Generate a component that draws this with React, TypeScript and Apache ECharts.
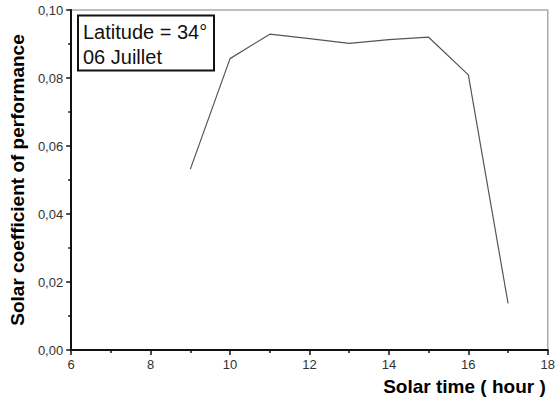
import React, { useEffect, useRef } from "react";
import * as echarts from "echarts";

const hours = [9, 10, 11, 12, 13, 14, 15, 16, 17];
const cop = [0.0532, 0.0857, 0.0929, 0.0916, 0.0902, 0.0913, 0.0920, 0.0809, 0.0137];
const legendLines = ["Latitude = 34°", "06 Juillet"];
const xTitle = "Solar time ( hour )";
const yTitle = "Solar coefficient of performance";

const FONT = "'Liberation Sans', Arial, sans-serif";

export default function App() {
  const ref = useRef<HTMLDivElement>(null);
  useEffect(() => {
    if (!ref.current) return;
    const chart = echarts.init(ref.current, undefined, { renderer: "svg" });
    chart.setOption({
      animation: false,
      backgroundColor: "#fff",
      grid: {
        left: 71,
        right: 8,
        top: 10,
        bottom: 54,
        show: true,
        borderColor: "#aaa",
        borderWidth: 1.5,
      },
      xAxis: {
        type: "value",
        min: 6,
        max: 18,
        interval: 2,
        name: xTitle,
        nameLocation: "end",
        nameGap: -2,
        nameTextStyle: {
          fontFamily: FONT,
          fontWeight: "bold",
          fontSize: 19,
          color: "#000",
          align: "right",
          verticalAlign: "top",
          padding: [27, 0, 0, 0],
        },
        axisLine: { show: true, lineStyle: { color: "#111", width: 2 } },
        axisTick: { show: true, length: 5, lineStyle: { color: "#111", width: 1.5 } },
        minorTick: { show: true, splitNumber: 2, length: 3, lineStyle: { color: "#111", width: 1.5 } },
        splitLine: { show: false },
        axisLabel: { fontFamily: FONT, fontSize: 13, color: "#333", margin: 8 },
      },
      yAxis: {
        type: "value",
        min: 0,
        max: 0.1,
        interval: 0.02,
        name: yTitle,
        nameLocation: "middle",
        nameGap: 42,
        nameTextStyle: {
          fontFamily: FONT,
          fontWeight: "bold",
          fontSize: 19,
          color: "#000",
        },
        axisLine: { show: true, lineStyle: { color: "#111", width: 2 } },
        axisTick: { show: true, length: 5, lineStyle: { color: "#111", width: 1.5 } },
        minorTick: { show: true, splitNumber: 2, length: 3, lineStyle: { color: "#111", width: 1.5 } },
        splitLine: { show: false },
        axisLabel: {
          fontFamily: FONT,
          fontSize: 13,
          color: "#333",
          margin: 8,
          formatter: (v: number) => v.toFixed(2).replace(".", ","),
        },
      },
      series: [
        {
          type: "line",
          data: hours.map((h, i) => [h, cop[i]]),
          showSymbol: false,
          symbol: "none",
          lineStyle: { color: "#555", width: 1.2 },
        },
      ],
      graphic: [
        {
          type: "rect",
          shape: { x: 78, y: 15.5, width: 136, height: 55 },
          style: { fill: "#fff", stroke: "#111", lineWidth: 2 },
        },
        {
          type: "text",
          x: 83,
          y: 32,
          style: {
            text: legendLines[0],
            fontFamily: FONT,
            fontSize: 20,
            fill: "#111",
            verticalAlign: "middle",
          },
        },
        {
          type: "text",
          x: 83,
          y: 57,
          style: {
            text: legendLines[1],
            fontFamily: FONT,
            fontSize: 20,
            fill: "#111",
            verticalAlign: "middle",
          },
        },
      ],
    });
    return () => chart.dispose();
  }, []);
  return <div ref={ref} style={{ width: 558, height: 404, position: "absolute", left: 0, top: 0 }} />;
}
